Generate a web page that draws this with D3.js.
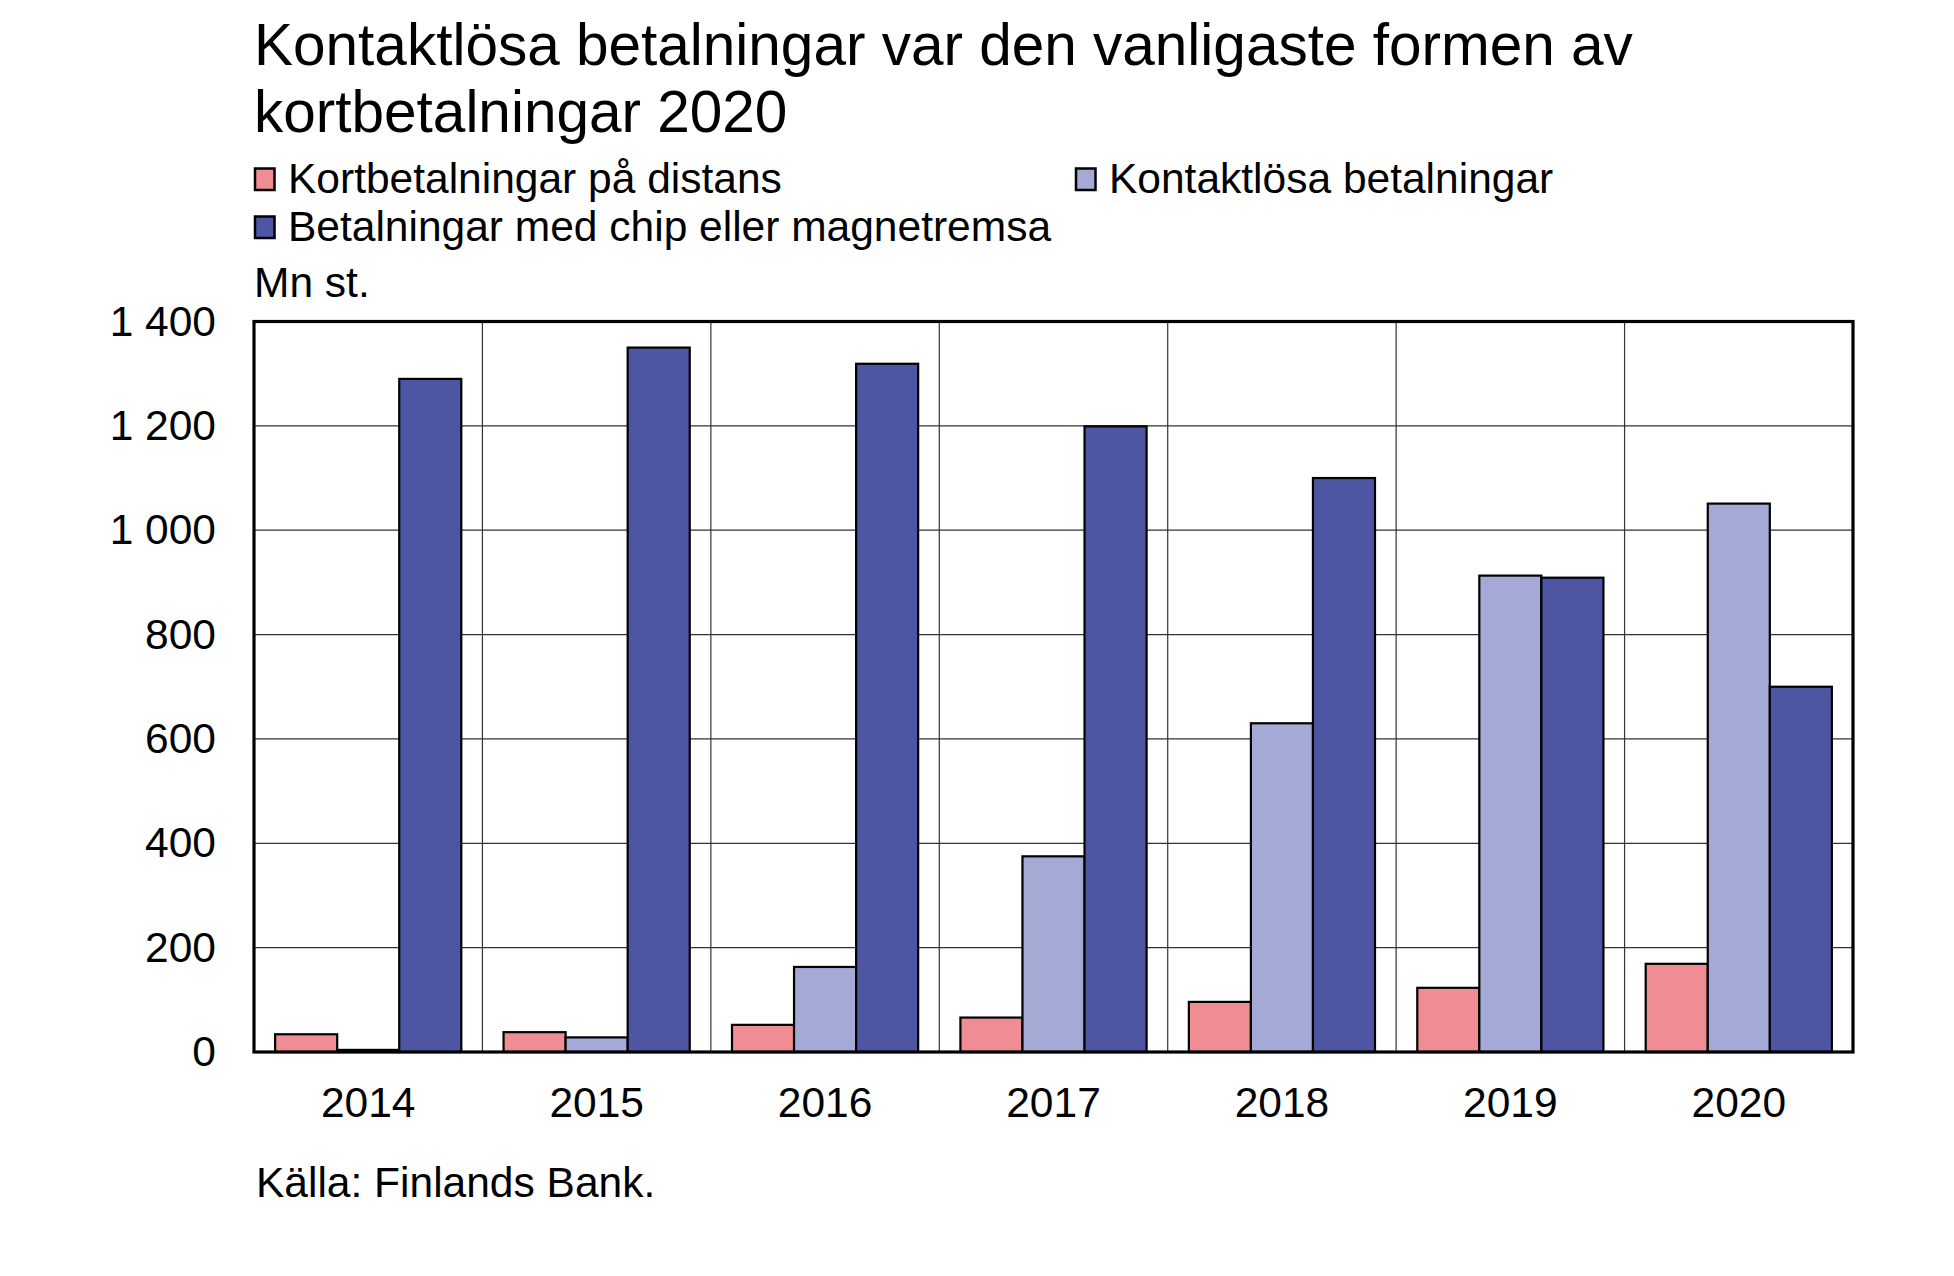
<!DOCTYPE html>
<html>
<head>
<meta charset="utf-8">
<script src="https://cdn.jsdelivr.net/npm/d3@7"></script>
<style>
  html, body { margin: 0; padding: 0; background: #fff; }
  svg { display: block; }
  text { font-family: "Liberation Sans", Arial, sans-serif; fill: #000; }
</style>
</head>
<body>
<svg id="chart" width="1954" height="1276"></svg>
<script>
// ---- Data ----
const years = ["2014", "2015", "2016", "2017", "2018", "2019", "2020"];
const seriesNames = ["Kortbetalningar på distans", "Kontaktlösa betalningar", "Betalningar med chip eller magnetremsa"];
const distans = [34, 38, 52, 66, 96, 123, 169];
const kontaktlosa = [4, 28, 163, 375, 630, 913, 1051];
const chip = [1290, 1350, 1319, 1199, 1100, 909, 700];
const yTicks = [0, 200, 400, 600, 800, 1000, 1200, 1400];
const titleLines = ["Kontaktlösa betalningar var den vanligaste formen av", "kortbetalningar 2020"];
const unitLabel = "Mn st.";
const sourceLabel = "Källa: Finlands Bank.";
const colors = ["#F08C94", "#A4A9D5", "#4E56A4"];

const seriesValues = [distans, kontaktlosa, chip];

// ---- Layout ----
const svg = d3.select("#chart");
svg.append("rect").attr("width", 1954).attr("height", 1276).attr("fill", "#fff");

const plot = { left: 254, right: 1853, top: 321.5, bottom: 1052 };

const x0 = d3.scaleBand().domain(years).range([plot.left, plot.right])
  .paddingInner(0.185).paddingOuter(0.0925);
const x1 = d3.scaleBand().domain(d3.range(seriesNames.length)).range([0, x0.bandwidth()]).padding(0);
const y = d3.scaleLinear().domain([0, 1400]).range([plot.bottom, plot.top]);

// Title
svg.append("g").selectAll("text").data(titleLines).join("text")
  .attr("x", 254).attr("y", (d, i) => 65 + i * 67)
  .attr("font-size", 58.5).text(d => d);

// Legend
const legendItems = [
  { i: 0, x: 255, y: 193 },
  { i: 1, x: 1076, y: 193 },
  { i: 2, x: 255, y: 241 }
];
const lg = svg.append("g").selectAll("g").data(legendItems).join("g");
lg.append("rect").attr("x", d => d.x).attr("y", d => d.y - 24.5).attr("width", 19.5).attr("height", 21.5)
  .attr("fill", d => colors[d.i]).attr("stroke", "#000").attr("stroke-width", 2.5);
lg.append("text").attr("x", d => d.x + 33).attr("y", d => d.y).attr("font-size", 42.5)
  .text(d => seriesNames[d.i]);

// Unit label
svg.append("text").attr("x", 254).attr("y", 296.5).attr("font-size", 42.5).text(unitLabel);

// Horizontal gridlines
svg.append("g").selectAll("line").data(yTicks.slice(1, -1)).join("line")
  .attr("x1", plot.left).attr("x2", plot.right)
  .attr("y1", d => y(d)).attr("y2", d => y(d))
  .attr("stroke", "#333").attr("stroke-width", 1.2);

// Vertical gridlines at category boundaries
svg.append("g").selectAll("line").data(years.slice(1)).join("line")
  .attr("x1", d => x0(d) - x0.step() * x0.paddingInner() / 2)
  .attr("x2", d => x0(d) - x0.step() * x0.paddingInner() / 2)
  .attr("y1", plot.top).attr("y2", plot.bottom)
  .attr("stroke", "#333").attr("stroke-width", 1.2);

// Bars
const groups = svg.append("g").selectAll("g").data(years).join("g")
  .attr("transform", d => `translate(${x0(d)},0)`);
groups.selectAll("rect")
  .data((d, yi) => seriesValues.map((vals, si) => ({ si, v: vals[yi] })))
  .join("rect")
  .attr("x", d => x1(d.si))
  .attr("width", x1.bandwidth())
  .attr("y", d => y(d.v))
  .attr("height", d => y(0) - y(d.v))
  .attr("fill", d => colors[d.si])
  .attr("stroke", "#000").attr("stroke-width", 2.2);

// Frame
svg.append("rect").attr("x", plot.left).attr("y", plot.top)
  .attr("width", plot.right - plot.left).attr("height", plot.bottom - plot.top)
  .attr("fill", "none").attr("stroke", "#000").attr("stroke-width", 3.2);

// Y axis labels
const fmt = v => d3.format(",")(v).replace(/,/g, " ");
const yAxis = d3.axisLeft(y).tickValues(yTicks).tickSize(0).tickPadding(38).tickFormat(fmt);
const ya = svg.append("g").attr("transform", `translate(${plot.left},0)`).call(yAxis);
ya.select(".domain").remove();
ya.selectAll("text").attr("font-size", 42.5).attr("font-family", "Liberation Sans, Arial, sans-serif").attr("fill", "#000");

// X axis labels
const xAxis = d3.axisBottom(x0).tickSize(0).tickPadding(35);
const xa = svg.append("g").attr("transform", `translate(0,${plot.bottom})`).call(xAxis);
xa.select(".domain").remove();
xa.selectAll("text").attr("font-size", 42.5).attr("font-family", "Liberation Sans, Arial, sans-serif").attr("fill", "#000");

// Source
svg.append("text").attr("x", 256).attr("y", 1196.5).attr("font-size", 42.5).text(sourceLabel);
</script>
</body>
</html>
